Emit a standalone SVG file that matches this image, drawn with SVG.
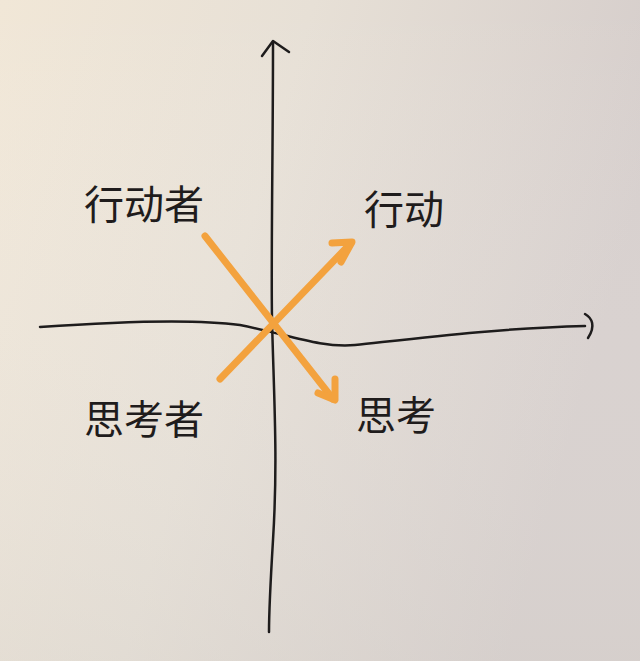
<svg xmlns="http://www.w3.org/2000/svg" width="640" height="661" viewBox="0 0 640 661">
  <defs>
    <linearGradient id="paper" x1="0" y1="0" x2="1" y2="0.3">
      <stop offset="0" stop-color="#f1e7d7"/>
      <stop offset="0.45" stop-color="#e7e0d6"/>
      <stop offset="1" stop-color="#d5cdcb"/>
    </linearGradient>
    <linearGradient id="shade" x1="0" y1="0" x2="0" y2="1">
      <stop offset="0" stop-color="#ffffff" stop-opacity="0"/>
      <stop offset="1" stop-color="#d8d4cf" stop-opacity="0.35"/>
    </linearGradient>
  </defs>
  <style>
    .ink { fill: none; stroke: #1e1c1c; stroke-width: 2.5; stroke-linecap: round; stroke-linejoin: round; }
    .orange { fill: none; stroke: #f3a23e; stroke-width: 7; stroke-linecap: round; stroke-linejoin: round; }
    .lbl { font-family: "Noto Sans CJK SC", "Noto Sans CJK TC", sans-serif; font-size: 40px; fill: #1f1c1c; font-weight: 400; }
  </style>
  <rect width="640" height="661" fill="url(#paper)"/>
  <rect width="640" height="661" fill="url(#shade)"/>

  <g id="connectors">
    <g id="y-axis">
      <path class="ink" d="M273,42 C273,150 271,250 272,320 C274,400 278,460 273,540 C270,590 269,615 269,632"/>
      <path class="ink" d="M262,56 L273,41 L289,52"/>
    </g>
    <g id="x-axis">
      <path class="ink" d="M40,327 C110,322 190,318 240,325 C290,335 320,348 355,345 C420,338 500,328 585,326"/>
      <path class="ink" d="M585,314 C592,318 596,326 588,338"/>
    </g>
    <g id="thinker-arrow">
      <path class="orange" d="M205,236 L333,399"/>
      <path class="orange" d="M318,393 L335,400 L335,379"/>
    </g>
    <g id="doer-arrow">
      <path class="orange" d="M220,379 L351,243"/>
      <path class="orange" d="M332,243 L352,242 L341,262"/>
    </g>
  </g>

  <g id="label-doer-person"><text class="lbl" x="84" y="219">行动者</text></g>
  <g id="label-doer"><text class="lbl" x="364" y="224">行动</text></g>
  <g id="label-thinker-person"><text class="lbl" x="84" y="434">思考者</text></g>
  <g id="label-thinker"><text class="lbl" x="356" y="430">思考</text></g>
</svg>
